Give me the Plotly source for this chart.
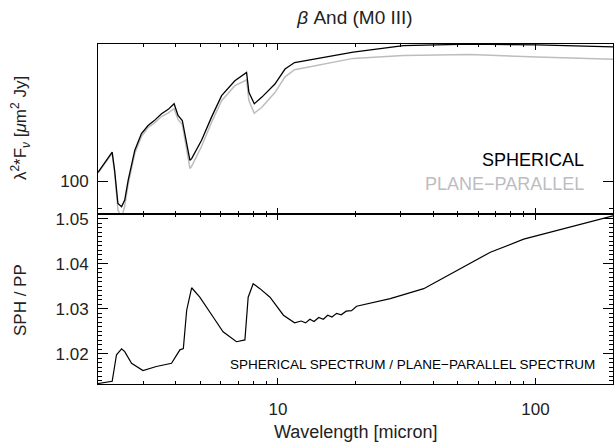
import plotly.graph_objects as go
from plotly.subplots import make_subplots

# upper panel: lambda^2 * F_nu for both model atmospheres
wl_flux = [2.00, 2.27, 2.32, 2.39, 2.47, 2.54, 2.62, 2.78, 2.95, 3.13, 3.30, 3.53, 3.75, 3.95,
           4.09, 4.25, 4.55, 4.62, 5.05, 5.52, 6.04, 6.80, 7.55, 7.71, 8.09, 8.64, 9.73,
           10.65, 11.6, 14.6, 19.6, 30.7, 55.8, 101.5, 184.5, 200.0]
flux_sph = [103.4, 111.6, 104.2, 91.9, 90.8, 93.1, 100.4, 112.4, 119.7, 123.4, 125.6, 129.0,
            131.2, 134.0, 128.2, 125.8, 108.2, 108.9, 116.7, 127.4, 138.2, 146.2, 150.9,
            139.9, 134.0, 137.3, 144.4, 152.8, 156.6, 159.3, 162.9, 167.0, 167.9, 167.4,
            166.6, 166.2]
flux_pp = [103.1, 111.1, 103.4, 89.7, 87.0, 91.0, 98.9, 111.1, 118.4, 122.5, 124.4, 127.7,
           129.5, 131.5, 126.3, 123.9, 104.9, 105.8, 114.1, 124.9, 135.6, 143.5, 146.6,
           135.6, 129.3, 132.1, 139.8, 148.4, 152.4, 155.3, 159.1, 160.8, 161.4, 159.9,
           158.9, 158.6]

# lower panel: ratio spherical / plane-parallel
wl_ratio = [2.00, 2.27, 2.36, 2.47, 2.54, 2.70, 2.99, 3.37, 3.86, 4.01, 4.16, 4.29, 4.42,
            4.62, 4.97, 5.60, 6.12, 6.90, 7.44, 7.66, 8.01, 8.51, 9.31, 10.5, 11.6, 12.3,
            12.8, 13.3, 13.8, 14.4, 15.0, 15.6, 16.2, 16.9, 17.6, 18.4, 19.3, 20.2, 27.3,
            36.8, 42.7, 49.6, 66.8, 90.0, 121.0, 164.0, 200.0]
ratio = [1.0134, 1.0139, 1.0198, 1.0211, 1.0205, 1.0179, 1.0163, 1.0172, 1.0179, 1.0194,
         1.0209, 1.0212, 1.0297, 1.0347, 1.0326, 1.0282, 1.0249, 1.0227, 1.0231, 1.0326,
         1.0356, 1.0345, 1.0326, 1.0286, 1.0269, 1.0273, 1.0269, 1.0277, 1.0272, 1.0281,
         1.0277, 1.0286, 1.0282, 1.0290, 1.0287, 1.0295, 1.0296, 1.0306, 1.0323, 1.0345,
         1.0365, 1.0385, 1.0426, 1.0455, 1.0474, 1.0494, 1.0507]

FONT = "Liberation Sans, Arial, sans-serif"
GRAY = "#bdbdc1"

fig = make_subplots(rows=2, cols=1, shared_xaxes=True, vertical_spacing=0)

fig.add_trace(go.Scatter(x=wl_flux, y=flux_pp, mode="lines",
                         line=dict(color=GRAY, width=1.5)), row=1, col=1)
fig.add_trace(go.Scatter(x=wl_flux, y=flux_sph, mode="lines",
                         line=dict(color="black", width=1.3)), row=1, col=1)
fig.add_trace(go.Scatter(x=wl_ratio, y=ratio, mode="lines",
                         line=dict(color="black", width=1.2)), row=2, col=1)

xaxis_style = dict(
    type="log", range=[0.30103, 2.30103],
    showline=True, linecolor="black", linewidth=1, mirror="ticks",
    ticks="inside", ticklen=6, tickcolor="black",
    tickvals=[10, 100], showgrid=False, zeroline=False,
    minor=dict(ticks="inside", ticklen=3, tickcolor="black",
               tickvals=[2, 3, 4, 5, 6, 7, 8, 9, 20, 30, 40, 50, 60, 70, 80, 90, 200]),
)
fig.update_xaxes(**xaxis_style)
fig.update_xaxes(showticklabels=False, row=1, col=1)
fig.update_xaxes(ticktext=["10", "100"], ticklabelstandoff=10,
                 tickfont=dict(size=17, color="#222"), row=2, col=1)

fig.update_yaxes(
    type="log", range=[1.946, 2.2253],
    showline=True, linecolor="black", linewidth=1, mirror="ticks",
    ticks="inside", ticklen=10, tickcolor="black", showgrid=False,
    tickvals=[100], ticktext=["100"], ticklabelstandoff=5,
    tickfont=dict(size=17, color="#222"),
    minor=dict(ticks="inside", ticklen=4, tickcolor="black", tickvals=[90]),
    row=1, col=1,
)
fig.update_yaxes(
    range=[1.0133, 1.0511],
    showline=True, linecolor="black", linewidth=1, mirror="ticks",
    ticks="inside", ticklen=10, tickcolor="black", showgrid=False, zeroline=False,
    tickvals=[1.02, 1.03, 1.04, 1.05], ticktext=["1.02", "1.03", "1.04", "1.05"],
    ticklabelstandoff=5, tickfont=dict(size=17, color="#222"),
    minor=dict(ticks="inside", ticklen=4, tickcolor="black", dtick=0.001, tick0=1.0),
    row=2, col=1,
)

annots = [
    dict(text="SPHERICAL", x=586, y=160, color="black", size=18, anchor="right"),
    dict(text="PLANE\u2212PARALLEL", x=586, y=184, color=GRAY, size=18, anchor="right"),
    dict(text="SPHERICAL SPECTRUM / PLANE\u2212PARALLEL SPECTRUM", x=597, y=364,
         color="black", size=13.5, anchor="right"),
    dict(text="Wavelength [micron]", x=355, y=432, color="#222", size=18, anchor="center"),
]
for a in annots:
    fig.add_annotation(text=a["text"], xref="paper", yref="paper",
                       x=(a["x"] - 98) / 515, y=(384 - a["y"]) / 340,
                       xanchor=a["anchor"], yanchor="middle", showarrow=False,
                       font=dict(family=FONT, size=a["size"], color=a["color"]))

fig.add_annotation(text="\u03bb<sup>2</sup>*F<sub><i>\u03bd</i></sub> [<i>\u03bc</i>m<sup>2</sup> Jy]",
                   xref="paper", yref="paper", x=(20 - 98) / 515, y=(384 - 128) / 340,
                   textangle=-90, showarrow=False, xanchor="center", yanchor="middle",
                   font=dict(family=FONT, size=17, color="#222"))
fig.add_annotation(text="SPH / PP", xref="paper", yref="paper",
                   x=(20 - 98) / 515, y=(384 - 300) / 340,
                   textangle=-90, showarrow=False, xanchor="center", yanchor="middle",
                   font=dict(family=FONT, size=17, color="#222"))

fig.update_layout(
    width=615, height=448,
    margin=dict(l=98, r=2, t=44, b=64),
    paper_bgcolor="white", plot_bgcolor="white",
    showlegend=False,
    font=dict(family=FONT, color="#222"),
    title=dict(text="<i>\u03b2</i> And (M0 III)", x=(355 - 0) / 615, xanchor="center",
               y=1 - 17 / 448, yanchor="middle", font=dict(size=19, color="#222")),
)

# drop the browser's default body margin so the figure sits at the page corner
fig.write_html("out.html", config={"displayModeBar": False},
               post_script="document.body.style.margin='0';")
